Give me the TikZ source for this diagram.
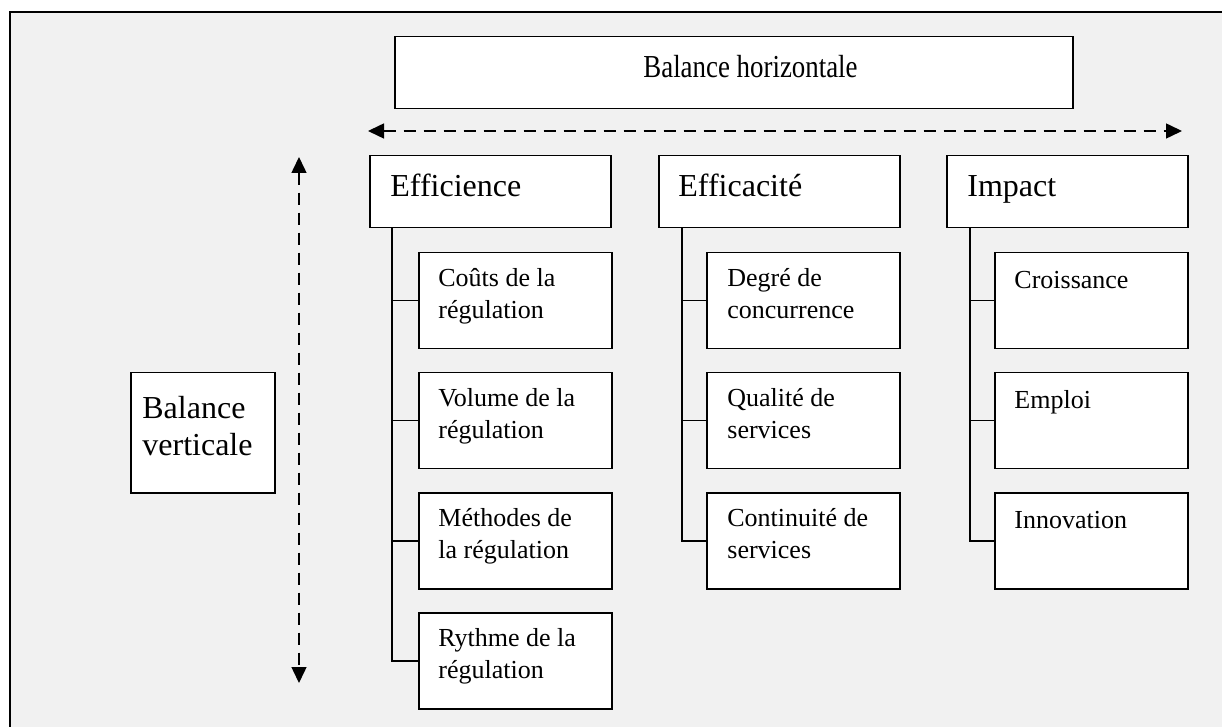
\documentclass[tikz,border=0pt]{standalone}
\usepackage{fontspec}
\setmainfont{Liberation Serif}
\usetikzlibrary{arrows.meta}
\definecolor{bggray}{HTML}{F1F1F1}
\begin{document}
\begin{tikzpicture}[x=0.5pt,y=-0.5pt,
  box/.style={draw, line width=0.75pt, fill=white, inner sep=0pt, anchor=north west},
  headbox/.style={box, minimum width=120.5pt, minimum height=36pt},
  subbox/.style={box, minimum width=96.5pt, minimum height=48pt},
  txt/.style={anchor=north west, inner sep=0pt, align=left},
  htxt/.style={txt, font=\fontsize{16}{18.5}\selectfont, execute at begin node={\rule{0pt}{13pt}}},
  stxt/.style={txt, font=\fontsize{13}{15.85}\selectfont, execute at begin node={\rule{0pt}{10pt}}},
  tree/.style={line width=0.75pt},
  dasharrow/.style={line width=0.75pt, dash pattern=on 6pt off 4pt,
    {Triangle[length=8pt,width=7.5pt]}-{Triangle[length=8pt,width=7.5pt]}}
]
\useasboundingbox (0,0) rectangle (1222,727);
% frame
\fill[bggray] (10,12) rectangle (1222,727);
\draw[line width=1pt] (10,727) -- (10,12) -- (1222,12);

% Balance horizontale
\node[box, minimum width=339pt, minimum height=36pt] (bh) at (394,36) {};
\node[txt, font=\fontsize{16}{18.5}\selectfont, execute at begin node={\rule{0pt}{13pt}}] (bht) at (643,51) {\scalebox{0.84}[1]{Balance horizontale}};

% arrows
\coordinate (ha1) at (368,131);
\coordinate (ha2) at (1182,131);
\draw[dasharrow] (ha1) -- (ha2);
\coordinate (va1) at (299,157);
\coordinate (va2) at (299,683);
\draw[dasharrow] (va1) -- (va2);

% Balance verticale
\node[box, minimum width=72pt, minimum height=60pt] (bv) at (130,372) {};
\node[htxt] (bvt) at (142,396) {Balance\\verticale};

% Efficience column
\node[headbox] (e) at (369,155) {};
\node[htxt] (et) at (390,170) {Efficience};
\node[subbox] (e1) at (418,252) {};
\node[stxt] (e1t) at (438,268) {Coûts de la\\régulation};
\node[subbox] (e2) at (418,372) {};
\node[stxt] (e2t) at (438,388) {Volume de la\\régulation};
\node[subbox] (e3) at (418,492) {};
\node[stxt] (e3t) at (438,508) {Méthodes de\\la régulation};
\node[subbox] (e4) at (418,612) {};
\node[stxt] (e4t) at (438,628) {Rythme de la\\régulation};
\foreach \c in {e1,e2,e3,e4}
  \draw[tree] ([xshift=11.5pt]e.south west) |- (\c.west);

% Efficacite column
\node[headbox] (f) at (658,155) {};
\node[htxt] (ft) at (678,170) {Efficacité};
\node[subbox] (f1) at (706,252) {};
\node[stxt] (f1t) at (727,268) {Degré de\\concurrence};
\node[subbox] (f2) at (706,372) {};
\node[stxt] (f2t) at (727,388) {Qualité de\\services};
\node[subbox] (f3) at (706,492) {};
\node[stxt] (f3t) at (727,508) {Continuité de\\services};
\foreach \c in {f1,f2,f3}
  \draw[tree] ([xshift=12pt]f.south west) |- (\c.west);

% Impact column
\node[headbox] (g) at (946,155) {};
\node[htxt] (gt) at (967,170) {Impact};
\node[subbox] (g1) at (994,252) {};
\node[stxt] (g1t) at (1014,268) {Croissance};
\node[subbox] (g2) at (994,372) {};
\node[stxt] (g2t) at (1014,388) {Emploi};
\node[subbox] (g3) at (994,492) {};
\node[stxt] (g3t) at (1014,508) {Innovation};
\foreach \c in {g1,g2,g3}
  \draw[tree] ([xshift=12pt]g.south west) |- (\c.west);
\end{tikzpicture}
\end{document}
